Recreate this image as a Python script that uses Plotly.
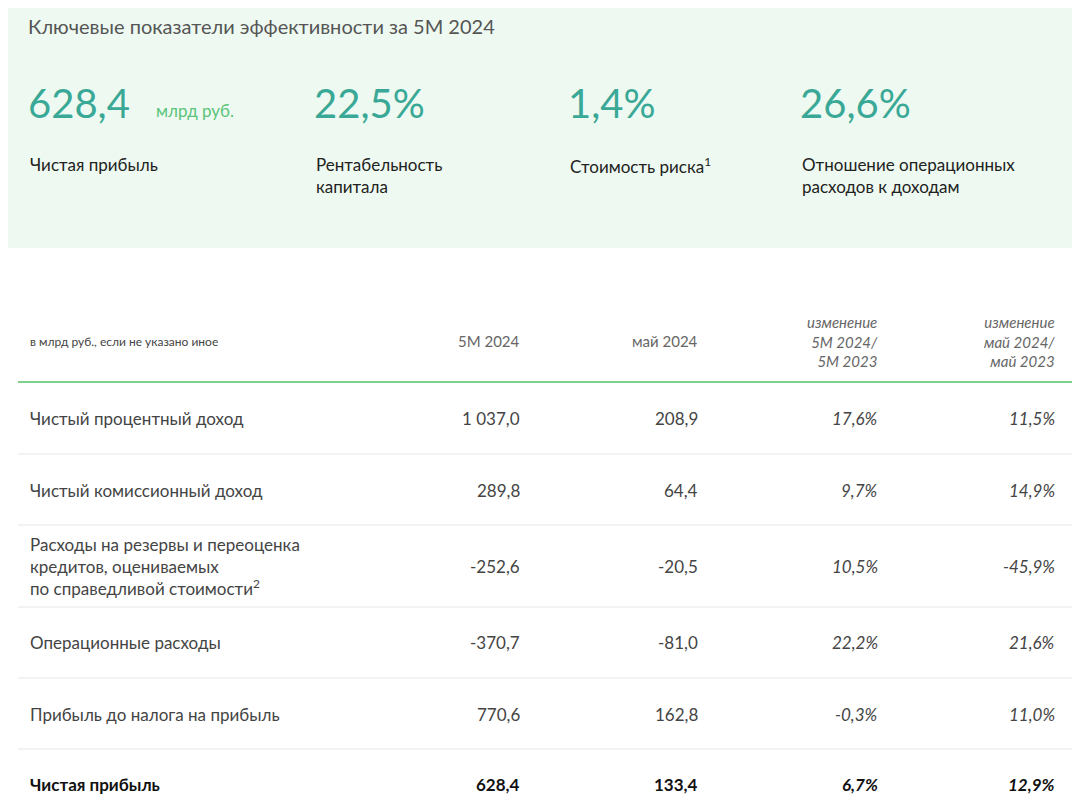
import plotly.graph_objects as go

kpi_values = ["628,4", "22,5%", "1,4%", "26,6%"]
kpi_labels = ["Чистая прибыль", "Рентабельность<br>капитала", "Стоимость риска<sup>1</sup>",
              "Отношение операционных<br>расходов к доходам"]
row_labels = ["Чистый процентный доход", "Чистый комиссионный доход",
              "Расходы на резервы и переоценка<br>кредитов, оцениваемых<br>по справедливой стоимости<sup>2</sup>",
              "Операционные расходы", "Прибыль до налога на прибыль", "Чистая прибыль"]
col_5m = ["1 037,0", "289,8", "-252,6", "-370,7", "770,6", "628,4"]
col_may = ["208,9", "64,4", "-20,5", "-81,0", "162,8", "133,4"]
chg_5m = ["17,6%", "9,7%", "10,5%", "22,2%", "-0,3%", "6,7%"]
chg_may = ["11,5%", "14,9%", "-45,9%", "21,6%", "11,0%", "12,9%"]
headers = ["5M 2024", "май 2024", "<i>изменение<br>5M 2024/<br>5M 2023</i>", "<i>изменение<br>май 2024/<br>май 2023</i>"]

F = "Lato, Open Sans, sans-serif"
fig = go.Figure()
fig.update_layout(width=1080, height=810, margin=dict(l=0, r=0, t=0, b=0),
                  paper_bgcolor="white", plot_bgcolor="white", showlegend=False,
                  xaxis=dict(range=[8, 1088], visible=False),
                  yaxis=dict(range=[818, 8], visible=False))
shapes = [dict(type="rect", x0=-20, x1=1100, y0=-20, y1=248, fillcolor="#eefaf1", line_width=0, layer="below")]
ann = []
def A(x, y, t, size, color="#333", xa="left", ya="middle"):
    ann.append(dict(x=x, y=y, xref="x", yref="y", text=t, showarrow=False, xanchor=xa, yanchor=ya,
                    font=dict(size=size, color=color, family=F), align=xa))

A(26, 26, "Ключевые показатели эффективности за 5М 2024", 20, "#555")
kx = [28, 314, 568, 800]
for i, (v, l) in enumerate(zip(kpi_values, kpi_labels)):
    A(kx[i] - 2, 103, v, 40, "#3aa896")
    A(kx[i], 152, l, 17, "#222", ya="top")
A(154, 110, "млрд руб.", 17, "#5cc47a")

A(28, 341, "в млрд руб., если не указано иное", 12, "#444")
hx = [522, 700, 880, 1057]
for x, h in zip(hx, headers):
    A(x, 341, h, 15, "#666", xa="right")
shapes.append(dict(type="line", x0=18, x1=1100, y0=382, y1=382, line=dict(color="#7fd08c", width=2)))

ry = [418, 490, 566, 642, 714, 784]
for i, y in enumerate(ry):
    bold = i == len(ry) - 1
    w = (lambda s: f"<b>{s}</b>") if bold else (lambda s: s)
    it = (lambda s: f"<b><i>{s}</i></b>") if bold else (lambda s: f"<i>{s}</i>")
    c = "#111" if bold else "#444"
    A(28, y, w(row_labels[i]), 17, c)
    A(522, y, w(col_5m[i]), 17, c, xa="right")
    A(700, y, w(col_may[i]), 17, c, xa="right")
    A(880, y, it(chg_5m[i]), 17, c, xa="right")
    A(1057, y, it(chg_may[i]), 17, c, xa="right")
for y in [454, 525, 607, 678, 749]:
    shapes.append(dict(type="line", x0=18, x1=1100, y0=y, y1=y, line=dict(color="#e6e6e6", width=1)))

fig.update_layout(shapes=shapes, annotations=ann)
fig.write_html("out.html")
